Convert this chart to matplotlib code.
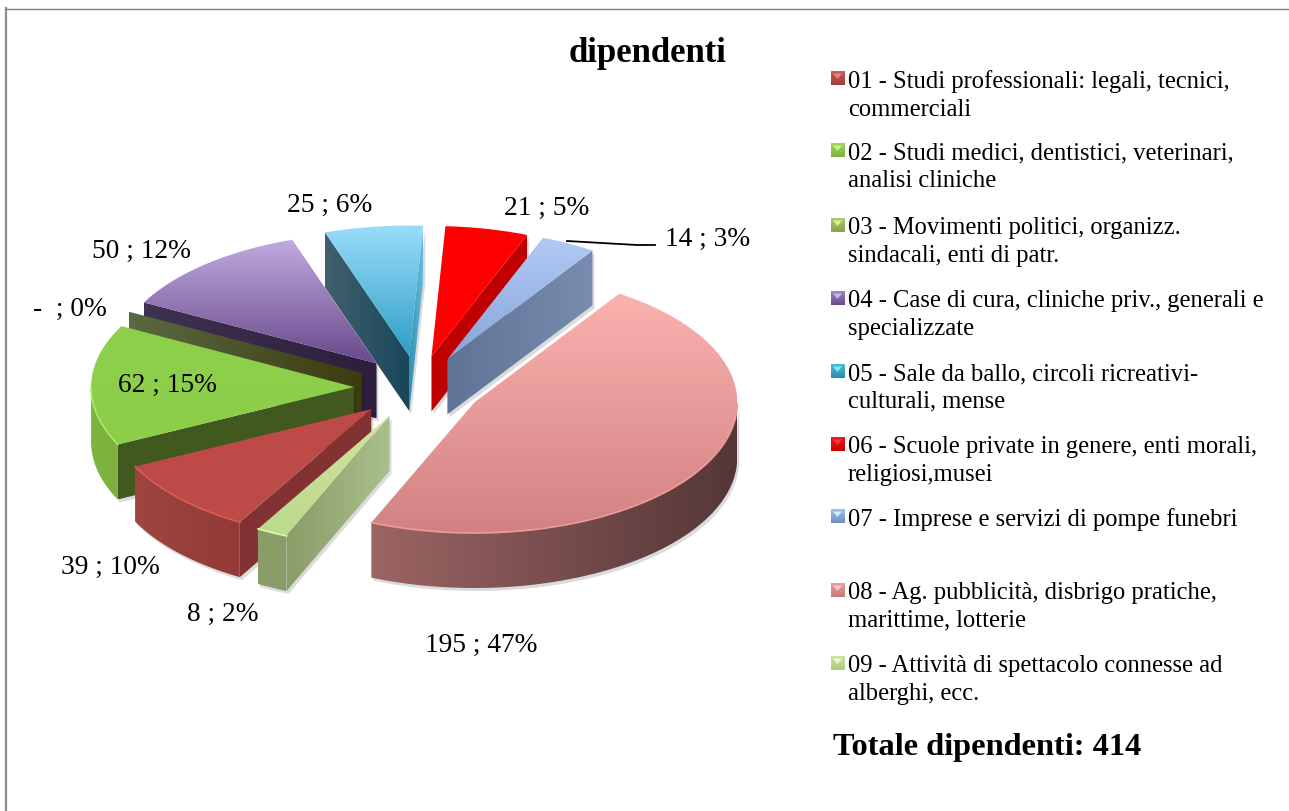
import numpy as np
import matplotlib
matplotlib.use("Agg")
import matplotlib.pyplot as plt
from matplotlib.patches import Polygon

plt.rcParams["font.family"] = ["Liberation Serif", "DejaVu Serif"]

legend_labels = [
    "01 - Studi professionali: legali, tecnici,\ncommerciali",
    "02 - Studi medici, dentistici, veterinari,\nanalisi cliniche",
    "03 - Movimenti politici, organizz.\nsindacali, enti di patr.",
    "04 - Case di cura, cliniche priv., generali e\nspecializzate",
    "05 - Sale da ballo, circoli ricreativi-\nculturali, mense",
    "06 - Scuole private in genere, enti morali,\nreligiosi,musei",
    "07 - Imprese e servizi di pompe funebri",
    "08 - Ag. pubblicità, disbrigo pratiche,\nmarittime, lotterie",
    "09 - Attività di spettacolo connesse ad\nalberghi, ecc.",
]
values = [39, 62, 0, 50, 25, 21, 14, 195, 8]
value_labels = ["39 ; 10%", "62 ; 15%", "-  ; 0%", "50 ; 12%", "25 ; 6%",
                "21 ; 5%", "14 ; 3%", "195 ; 47%", "8 ; 2%"]

# pixel positions of the labels, legend rows
label_xy = [(110, 567), (167, 385), (70, 309), (141, 251), (330, 205),
            (547, 208), (708, 239), (481, 645), (223, 614)]
legend_y = [79, 151, 226, 299, 372, 445, 517, 591, 664]

# colours: top face (upper, lower), outer wall (left, right), cut walls (left, right)
top_cols = [("#be4b48", "#bc4a47"), ("#8ed04c", "#8ccd4a"), ("#9bbb59", "#9bbb59"),
            ("#c0aade", "#694a8c"), ("#9adcfa", "#2d9fc6"), ("#ff0000", "#ff0000"),
            ("#b0caf5", "#87a5d7"), ("#fab2af", "#d28282"), ("#d0e4a0", "#bcd98c")]
legend_cols = [("#c8605c", "#a23c3a"), ("#a0d860", "#7ab33e"), ("#b0cc74", "#88a54a"),
               ("#a48cc4", "#664a8a"), ("#58bcd8", "#2a8cac"), ("#f02020", "#c80000"),
               ("#a8c0ec", "#6f8ebf"), ("#eaa0a0", "#c87878"), ("#d0e4a0", "#aec884")]
arc_cols = [("#9e4540", "#933a36"), ("#7eb540", "#7db03e"), ("#5a6941", "#5a6941"),
            ("#3c3250", "#2d1e3c"), ("#5ab4d2", "#5ab4d2"), ("#c00000", "#c00000"),
            ("#6e82a8", "#788cb0"), ("#9c6464", "#553737"), ("#8a9c68", "#8a9c68")]
cut_end_cols = [("#823232", "#823232"), ("#41591e", "#41591e"), ("#5a6941", "#3c3c0f"),
                ("#3f3250", "#2d1e3c"), ("#41606e", "#19465a"), ("#c00000", "#c00000"),
                ("#5f7396", "#788cb0"), ("#553737", "#553737"), ("#8a9c68", "#aac08c")]
cut_start_cols = [("#823232", "#823232"), ("#41591e", "#41591e"), ("#5a6941", "#3c3c0f"),
                  ("#3f3250", "#2d1e3c"), ("#2f8fb2", "#68bcd8"), ("#c00000", "#c00000"),
                  ("#5f7396", "#788cb0"), ("#553737", "#553737"), ("#8a9c68", "#aac08c")]

# back to front
draw_order = [5, 6, 4, 3, 2, 1, 0, 8, 7]

CX, CY, RX, RY = 418, 388.5, 263, 130.5
DEPTH = 55
EXPLODE = 0.243


def hex2rgb(c):
    return np.array(matplotlib.colors.to_rgb(c))


def to_px(pts, drop=0):
    pts = np.asarray(pts)
    return np.column_stack([CX + RX * pts[:, 0], CY - RY * pts[:, 1] + drop])


def grad_fill(ax, verts, c0, c1, horizontal, zorder):
    # gradient image clipped by a polygon in pixel coordinates
    x0, y0 = verts.min(axis=0)
    x1, y1 = verts.max(axis=0)
    t = np.linspace(0, 1, 64)
    img = np.outer(1 - t, hex2rgb(c0)) + np.outer(t, hex2rgb(c1))
    img = img[np.newaxis, :, :] if horizontal else img[:, np.newaxis, :]
    im = ax.imshow(img, extent=(x0, x1 + 0.01, y1 + 0.01, y0), aspect="auto",
                   zorder=zorder, interpolation="bilinear")
    poly = Polygon(verts, closed=True, transform=ax.transData, fc="none", ec="none")
    ax.add_patch(poly)
    im.set_clip_path(poly)
    return im


fig = plt.figure(figsize=(12.89, 8.12), dpi=100)
ax = fig.add_axes([0, 0, 1, 1])

wedges, _ = ax.pie(values, explode=[EXPLODE] * len(values), startangle=240,
                   counterclock=False, radius=1)

z = 3
faces = []
for i in draw_order:
    w = wedges[i]
    faces.append((i, w.center, np.radians(w.theta1), np.radians(w.theta2)))
    w.remove()

ax.set_aspect("auto")
ax.set_xlim(0, 1289)
ax.set_ylim(812, 0)
ax.axis("off")

for i, (cx, cy), a1, a2 in faces:
    apex = np.array([[cx, cy]])
    rim1 = np.array([[cx + np.cos(a1), cy + np.sin(a1)]])
    rim2 = np.array([[cx + np.cos(a2), cy + np.sin(a2)]])

    def cut_wall(rim):
        top = to_px(np.vstack([apex, rim]))
        bot = to_px(np.vstack([rim, apex]), DEPTH)
        return np.vstack([top, bot])

    # outer wall, only the part turned to the viewer (lower half of the ellipse)
    aa = np.linspace(a1, a2, 200)
    rim = np.column_stack([cx + np.cos(aa), cy + np.sin(aa)])
    front = rim[np.sin(aa) <= 0]
    walls = []
    if len(front) > 1:
        arc = np.vstack([to_px(front), to_px(front[::-1], DEPTH)])
        walls.append((arc, arc_cols[i]))
    # cut faces are seen when their outward normal points down the screen
    if np.sin(a1 - np.pi / 2) < 0:
        walls.append((cut_wall(rim1), cut_start_cols[i]))
    if np.sin(a2 + np.pi / 2) < 0:
        walls.append((cut_wall(rim2), cut_end_cols[i]))

    for verts, cols in walls:
        ax.add_patch(Polygon(verts + [2, 3], closed=True, fc="#000000", ec="none",
                             alpha=0.14, zorder=z))
        z += 1
    for verts, cols in walls:
        grad_fill(ax, verts, cols[0], cols[1], True, z)
        z += 1

    # top face
    top = to_px(np.vstack([apex, rim]))
    grad_fill(ax, top, top_cols[i][0], top_cols[i][1], False, z)
    z += 1
    if len(front) > 1:
        edge = to_px(front)
        lite = np.clip(hex2rgb(top_cols[i][1]) * 1.12 + 0.03, 0, 1)
        ax.plot(edge[:, 0], edge[:, 1], color=lite, lw=1.2, zorder=z)
    z += 1

# frame: no line at the bottom or on the right
ax.plot([6, 6], [9, 812], color="#8c8c8c", lw=1.6, zorder=1)
ax.plot([6, 1289], [9.7, 9.7], color="#808080", lw=1.0, zorder=1)

ax.text(648, 54, "dipendenti", ha="center", va="center", fontsize=25,
        fontweight="bold", color="black")

for (x, y), s in zip(label_xy, value_labels):
    ax.text(x, y, s, ha="center", va="center", fontsize=19.7, color="black", zorder=200)

ax.plot([567, 637, 655], [242, 246, 246], color="black", lw=1.3, zorder=200)

for i, y in enumerate(legend_y):
    ax.text(848, y - 9, legend_labels[i], ha="left", va="top", fontsize=17.7,
            linespacing=1.33, color="black", zorder=200)
    sq = np.array([[830.5, y - 7], [844.5, y - 7], [844.5, y + 7], [830.5, y + 7]])
    grad_fill(ax, sq, legend_cols[i][0], legend_cols[i][1], False, 200)
    tri = np.array([[833, y - 4.5], [842, y - 4.5], [837.5, y + 1]])
    ax.add_patch(Polygon(tri, closed=True,
                         fc=np.clip(hex2rgb(legend_cols[i][0]) * 1.2 + 0.1, 0, 1),
                         ec="none", alpha=0.8, zorder=201))

ax.text(833, 748, "Totale dipendenti: 414", ha="left", va="center", fontsize=23.3,
        fontweight="bold", color="black", zorder=200)

fig.savefig("out.png", dpi=100)
